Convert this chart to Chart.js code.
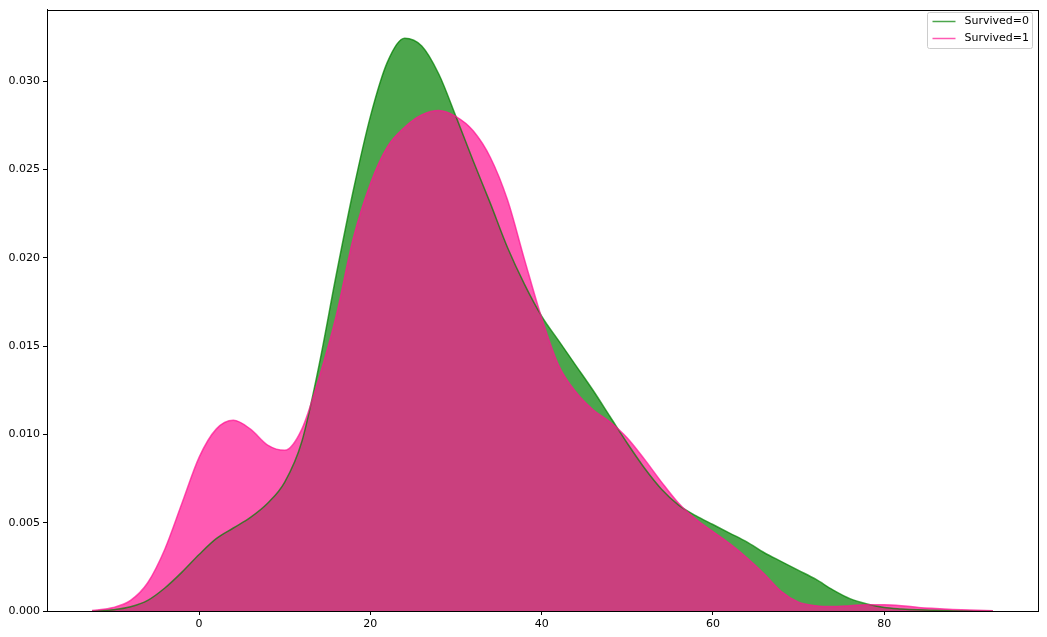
<!DOCTYPE html>
<html>
<head>
<meta charset="utf-8">
<script src="https://cdn.jsdelivr.net/npm/chart.js@4"></script>
<style>
  html, body { margin: 0; padding: 0; background: #fff; }
  #wrap { width: 1047px; height: 637px; }
</style>
</head>
<body>
<div id="wrap"><canvas id="chartAge"></canvas></div>
<script>
// age grid (x) and KDE density for each group
const ageGrid = [-12.5, -10, -8, -6, -4, -2, 0, 2, 4, 6, 8, 10, 12, 14, 16, 18, 20, 22, 24, 26, 28, 30,
  32, 34, 36, 38, 40, 42, 44, 46, 48, 50, 52, 54, 56, 58, 60, 62, 64, 66, 68, 70, 72, 74, 76, 78, 80,
  82, 84, 86, 88, 90, 92.7];

const survived0 = [0, 0.00007, 0.00024, 0.0006, 0.0013, 0.0022, 0.0032, 0.0041, 0.0047, 0.0053, 0.0061,
  0.0073, 0.0096, 0.0139, 0.0190, 0.0238, 0.0280, 0.0311, 0.03244, 0.0320, 0.0304, 0.0280, 0.0255,
  0.0231, 0.0206, 0.0185, 0.0167, 0.0153, 0.0139, 0.0125, 0.0110, 0.0095, 0.0081, 0.0069, 0.0060,
  0.0054, 0.0049, 0.0044, 0.0039, 0.0033, 0.0028, 0.0023, 0.0018, 0.0012, 0.0007, 0.0004, 0.0002,
  0.00012, 0.00007, 0.00004, 0.00002, 0.00001, 0];

const survived1 = [0.00003, 0.0002, 0.0006, 0.0016, 0.0035, 0.0061, 0.0087, 0.0103, 0.0108, 0.0103,
  0.0094, 0.0091, 0.0103, 0.0132, 0.0167, 0.0211, 0.0242, 0.0263, 0.0274, 0.0281, 0.02835, 0.0280,
  0.0272, 0.0257, 0.0233, 0.0199, 0.0166, 0.0139, 0.0124, 0.0114, 0.0107, 0.0098, 0.0086, 0.0073,
  0.0061, 0.0052, 0.0045, 0.0038, 0.0030, 0.0021, 0.0011, 0.0005, 0.0003, 0.00025, 0.0003, 0.00035,
  0.00035, 0.0003, 0.0002, 0.00014, 0.00009, 0.00005, 0.00001];

const seriesLabels = ["Survived=0", "Survived=1"];
const xTicks = [0, 20, 40, 60, 80];
const yTicks = [0, 0.005, 0.01, 0.015, 0.02, 0.025, 0.03];

const toPoints = (ys) => ageGrid.map((x, i) => ({ x: x, y: ys[i] }));

// frame around the plot + matplotlib-like legend
const framePlugin = {
  id: "frame",
  afterDraw(chart) {
    const { ctx, chartArea: a } = chart;
    ctx.save();
    ctx.strokeStyle = "#000";
    ctx.lineWidth = 1;
    ctx.strokeRect(Math.round(a.left) + 0.5, Math.round(a.top) + 0.5,
      Math.round(a.right - a.left), Math.round(a.bottom - a.top));

    // legend
    const bx = 927.5, by = 12.5, bw = 105, bh = 36;
    ctx.fillStyle = "rgba(255,255,255,0.8)";
    ctx.strokeStyle = "#cccccc";
    ctx.beginPath();
    ctx.roundRect(bx, by, bw, bh, 2);
    ctx.fill();
    ctx.stroke();
    ctx.font = "11px 'DejaVu Sans'";
    ctx.textBaseline = "middle";
    chart.data.datasets.forEach((ds, i) => {
      const yy = by + 9 + i * 17;
      ctx.strokeStyle = ds.borderColor;
      ctx.lineWidth = 1.5;
      ctx.beginPath();
      ctx.moveTo(bx + 5, yy);
      ctx.lineTo(bx + 28, yy);
      ctx.stroke();
      ctx.fillStyle = "#000";
      ctx.fillText(ds.label, bx + 37, yy);
    });
    ctx.restore();
  }
};

new Chart(document.getElementById("chartAge"), {
  type: "line",
  data: {
    datasets: [
      {
        label: seriesLabels[0],
        data: toPoints(survived0),
        borderColor: "rgba(0,128,0,0.7)",
        backgroundColor: "rgba(0,128,0,0.7)",
        borderWidth: 1.5,
        pointRadius: 0,
        fill: "origin",
        order: 1,
        cubicInterpolationMode: "monotone",
      },
      {
        label: seriesLabels[1],
        data: toPoints(survived1),
        borderColor: "rgba(255,20,147,0.7)",
        backgroundColor: "rgba(255,20,147,0.7)",
        borderWidth: 1.5,
        pointRadius: 0,
        fill: "origin",
        order: 0,
        cubicInterpolationMode: "monotone",
      },
    ],
  },
  options: {
    responsive: true,
    maintainAspectRatio: false,
    animation: false,
    layout: { padding: { top: 7, right: 9, left: 0, bottom: 0 } },
    plugins: {
      legend: { display: false },
      tooltip: { enabled: false },
      filler: { drawTime: "beforeDatasetsDraw" },
    },
    scales: {
      x: {
        type: "linear",
        min: -17.76,
        max: 97.96,
        afterBuildTicks: (s) => { s.ticks = xTicks.map((v) => ({ value: v })); },
        afterFit: (s) => { s.height = 26; },
        grid: { drawOnChartArea: false, drawTicks: true, tickLength: 4, tickColor: "#000" },
        border: { display: true, color: "#000" },
        ticks: {
          color: "#000",
          font: { family: "DejaVu Sans", size: 11 },
          padding: 3,
          maxRotation: 0,
        },
      },
      y: {
        min: 0,
        max: 0.03406,
        afterBuildTicks: (s) => { s.ticks = yTicks.map((v) => ({ value: v })); },
        afterFit: (s) => { s.width = 47; },
        grid: { drawOnChartArea: false, drawTicks: true, tickLength: 4, tickColor: "#000" },
        border: { display: true, color: "#000" },
        ticks: {
          color: "#000",
          font: { family: "DejaVu Sans", size: 11 },
          padding: 3,
          callback: (v) => v.toFixed(3),
        },
      },
    },
  },
  plugins: [framePlugin],
});
</script>
</body>
</html>
